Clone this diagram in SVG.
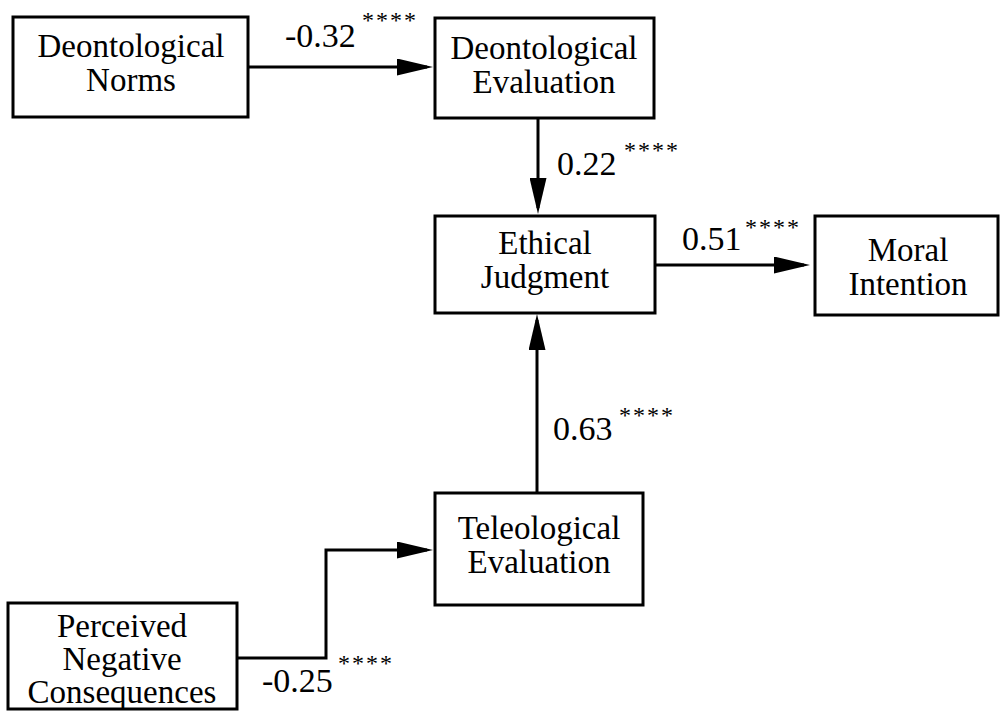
<svg xmlns="http://www.w3.org/2000/svg" width="1000" height="713" viewBox="0 0 1000 713">
<style>
.box{fill:#fff;stroke:#000;stroke-width:3}
.t{font-family:"Liberation Serif","Times New Roman",serif;font-size:33px;fill:#000;text-anchor:middle}
.l{font-family:"Liberation Serif","Times New Roman",serif;font-size:34px;fill:#000}
.s{font-family:"Liberation Serif","Times New Roman",serif;font-size:24px;fill:#000;letter-spacing:2px}
.e{fill:none;stroke:#000;stroke-width:3}
</style>
<defs>
<marker id="arr" viewBox="0 0 36 17" refX="30" refY="8.5" markerWidth="36" markerHeight="17" markerUnits="userSpaceOnUse" orient="auto">
<path d="M0,0 L36,8.5 L0,17 z" fill="#000"/>
</marker>
</defs>
<rect width="1000" height="713" fill="#fff"/>
<g id="connectors">
<path class="e" d="M248,67 H427" marker-end="url(#arr)"/>
<path class="e" d="M538,118 V208" marker-end="url(#arr)"/>
<path class="e" d="M655,265 H804" marker-end="url(#arr)"/>
<path class="e" d="M537,493 V320" marker-end="url(#arr)"/>
<path class="e" d="M237,658 H326 V550 H427" marker-end="url(#arr)"/>
</g>
<g id="labels">
<text class="l" x="285" y="47">-0.32</text><text class="s" x="362" y="28">****</text>
<text class="l" x="557" y="175">0.22</text><text class="s" x="624" y="158">****</text>
<text class="l" x="682" y="250">0.51</text><text class="s" x="745" y="235">****</text>
<text class="l" x="553" y="440">0.63</text><text class="s" x="619" y="423">****</text>
<text class="l" x="262" y="692">-0.25</text><text class="s" x="338" y="671">****</text>
</g>
<g id="deontological-norms">
<rect class="box" x="13" y="17" width="235" height="100"/>
<text class="t" x="131" y="57">Deontological</text>
<text class="t" x="131" y="91">Norms</text>
</g>
<g id="deontological-evaluation">
<rect class="box" x="435" y="18" width="219" height="100"/>
<text class="t" x="544" y="59">Deontological</text>
<text class="t" x="544" y="93">Evaluation</text>
</g>
<g id="ethical-judgment">
<rect class="box" x="435" y="216" width="220" height="97"/>
<text class="t" x="545" y="254">Ethical</text>
<text class="t" x="545" y="288">Judgment</text>
</g>
<g id="moral-intention">
<rect class="box" x="815" y="216" width="183" height="99"/>
<text class="t" x="908" y="261">Moral</text>
<text class="t" x="908" y="295">Intention</text>
</g>
<g id="teleological-evaluation">
<rect class="box" x="435" y="493" width="208" height="112"/>
<text class="t" x="539" y="539">Teleological</text>
<text class="t" x="539" y="573">Evaluation</text>
</g>
<g id="perceived-negative-consequences">
<rect class="box" x="8" y="603" width="229" height="106"/>
<text class="t" x="122" y="637">Perceived</text>
<text class="t" x="122" y="670">Negative</text>
<text class="t" x="122" y="703">Consequences</text>
</g>
</svg>
